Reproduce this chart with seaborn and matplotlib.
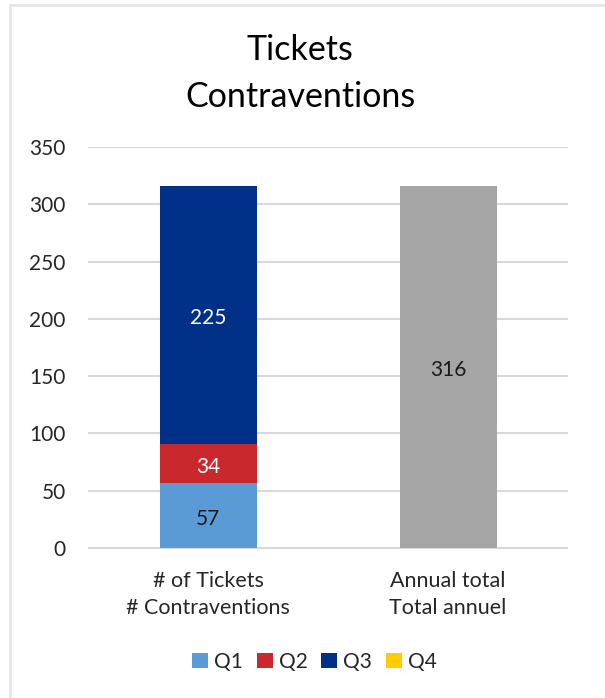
import matplotlib
matplotlib.use("Agg")
import matplotlib.pyplot as plt
from matplotlib.lines import Line2D
from matplotlib.patches import Patch
import seaborn as sns
import pandas as pd

# Data
categories = ["# of Tickets\n# Contraventions", "Annual total\nTotal annuel"]
quarters = ["Q1", "Q2", "Q3", "Q4"]
quarter_values = [57, 34, 225, 0]
annual_total = 316
quarter_colors = ["#5B9BD5", "#C9282D", "#003087", "#FFCC00"]
label_colors = ["#1a1a1a", "white", "white", "white"]
total_color = "#A5A5A5"
y_ticks = [0, 50, 100, 150, 200, 250, 300, 350]

sns.set_theme(style="white")
plt.rcParams["font.family"] = ["Lato", "DejaVu Sans"]

fig = plt.figure(figsize=(6.05, 6.98), dpi=100)
ax = fig.add_axes([0.1455, 0.2135, 0.7934, 0.5759])


def label_bar(container, text, color):
    # centre a value label inside the single bar of a container
    p = container.patches[0]
    ax.annotate(text, (p.get_x() + p.get_width() / 2, p.get_y() + p.get_height() / 2),
                xytext=(0, -2.5), textcoords="offset points",
                ha="center", va="center", color=color, fontsize=15)


bar_width = 0.404
bottom = 0
for q, v, c, lc in zip(quarters, quarter_values, quarter_colors, label_colors):
    df = pd.DataFrame({"cat": [categories[0]], "val": [v]})
    sns.barplot(data=df, x="cat", y="val", order=categories, bottom=bottom,
                width=bar_width, color=c, saturation=1, ax=ax, errorbar=None,
                linewidth=0)
    if v > 0:
        label_bar(ax.containers[-1], str(v), lc)
    bottom += v

df_total = pd.DataFrame({"cat": [categories[1]], "val": [annual_total]})
sns.barplot(data=df_total, x="cat", y="val", order=categories,
            width=bar_width, color=total_color, saturation=1, ax=ax, errorbar=None,
            linewidth=0)
label_bar(ax.containers[-1], str(annual_total), "#1a1a1a")

ax.set_xlim(-0.5, 1.5)
ax.set_yticks(y_ticks)
ax.set_yticklabels([str(t) for t in y_ticks], fontsize=15, color="#262626")
ax.set_xticks([0, 1])
ax.set_xticklabels(categories, fontsize=15.5, color="#262626", linespacing=1.45)
ax.tick_params(axis="both", length=0)
ax.tick_params(axis="y", pad=16)
ax.tick_params(axis="x", pad=16)
ax.set_xlabel("")
ax.set_ylabel("")
for s in ax.spines.values():
    s.set_visible(False)
ax.yaxis.grid(True, color="#D9D9D9", linewidth=1.5)
ax.set_axisbelow(True)
ax.set_ylim(-0.8, 350)

fig.text(0.496, 0.928, "Tickets", ha="center", va="center", fontsize=24.5, color="black")
fig.text(0.496, 0.861, "Contraventions", ha="center", va="center", fontsize=24.5, color="black")

handles = [Patch(facecolor=c, edgecolor="none") for c in quarter_colors]
fig.legend(handles, quarters, loc="center", bbox_to_anchor=(0.52, 0.052), ncol=4,
           frameon=False, fontsize=15, handlelength=0.75, handleheight=0.75,
           handletextpad=0.3, columnspacing=0.66)

# Frame edges of the chart area
fig.add_artist(Line2D([10 / 605, 1], [1 - 5 / 698, 1 - 5 / 698], color="#E6E6E6",
                      linewidth=2, transform=fig.transFigure))
fig.add_artist(Line2D([10 / 605, 10 / 605], [0, 1 - 5 / 698], color="#E6E6E6",
                      linewidth=2, transform=fig.transFigure))

fig.savefig("out.png", dpi=100)
